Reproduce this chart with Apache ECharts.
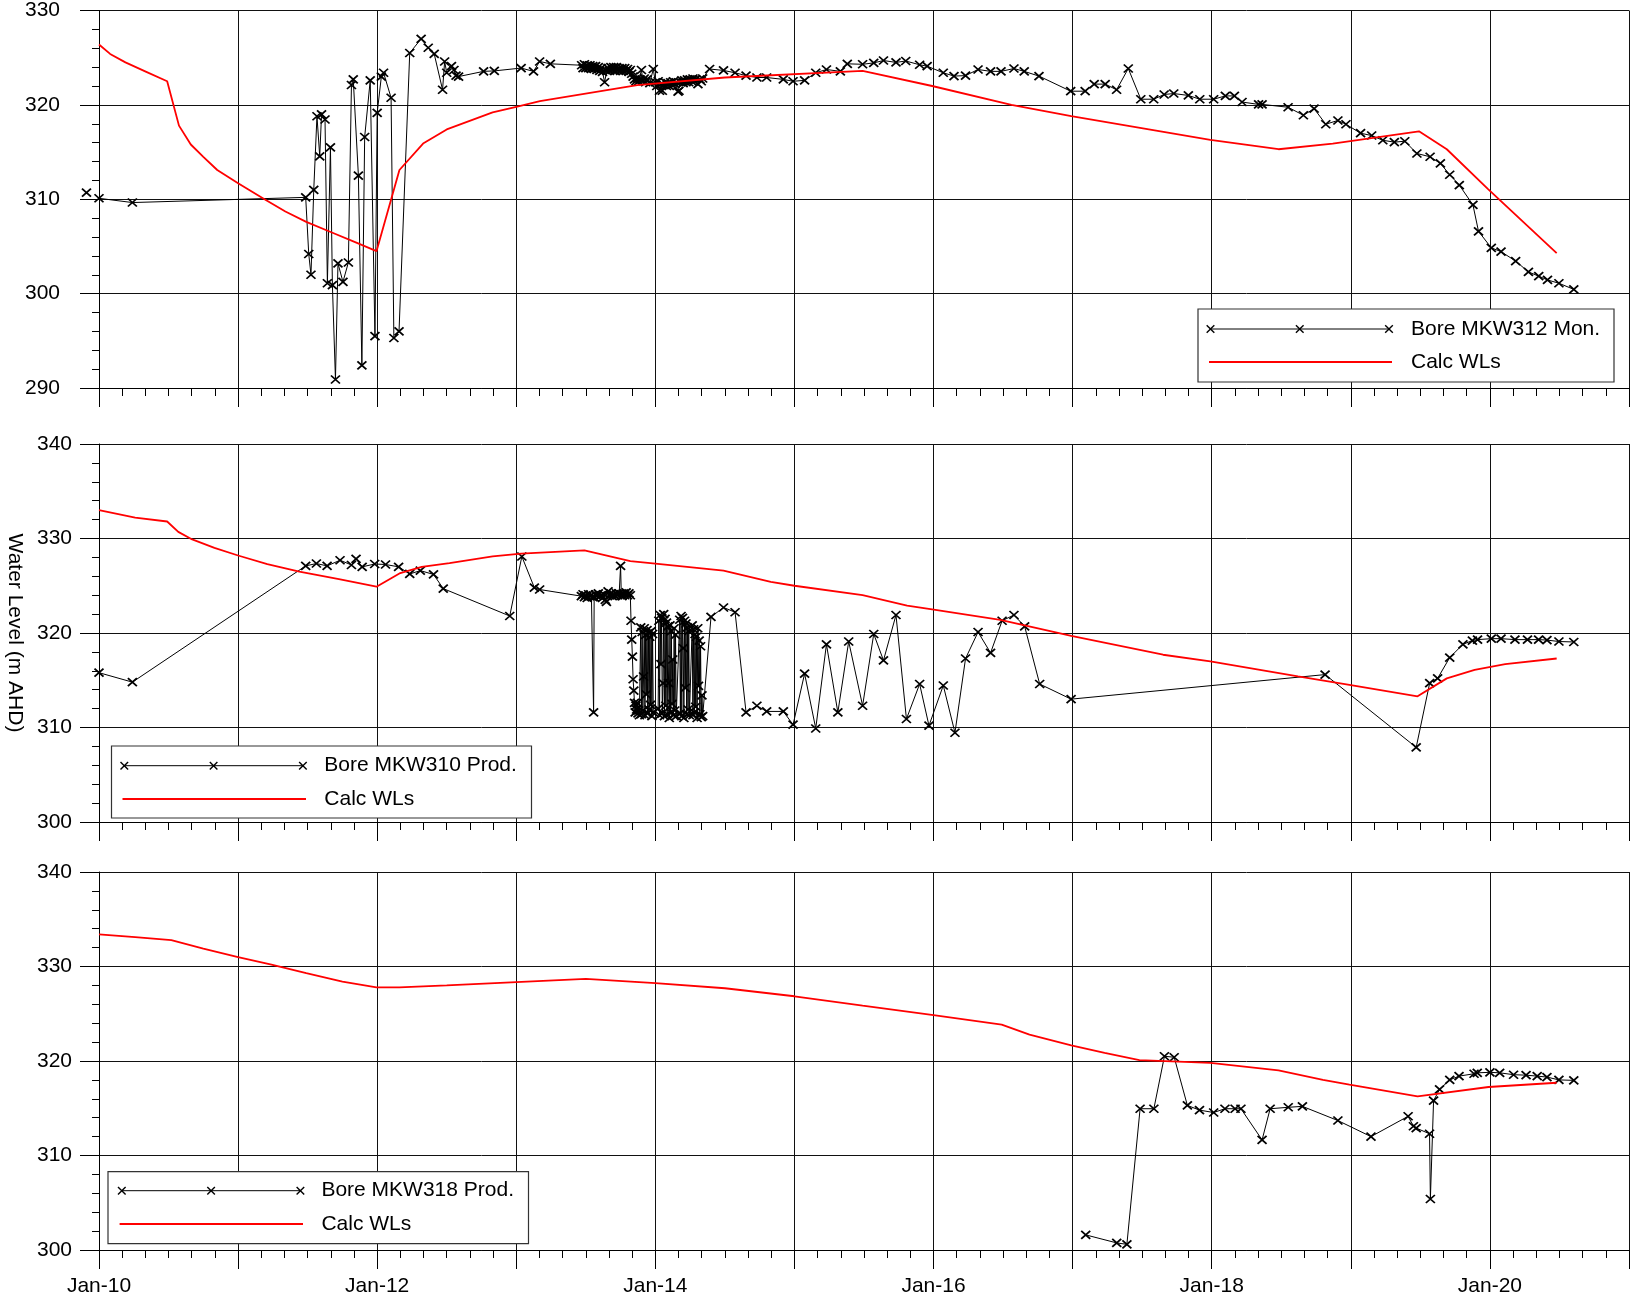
<!DOCTYPE html>
<html>
<head>
<meta charset="utf-8">
<script src="https://cdn.jsdelivr.net/npm/echarts@6/dist/echarts.min.js"></script>
<style>
  html, body { margin: 0; padding: 0; background: #fff; }
  #chart { width: 1633px; height: 1303px; }
</style>
</head>
<body>
<div id="chart"></div>
<script>
// Observed bore water levels and calculated water levels (m AHD), x in decimal years.

const bore312 = [
  [2009.91,310.7],[2010.0,310.1],[2010.24,309.65],[2011.486,310.2],[2011.508,304.2],[2011.524,302.0],
  [2011.544,311.0],[2011.567,318.8],[2011.587,314.55],[2011.600,319.0],[2011.625,318.45],[2011.642,301.1],
  [2011.664,315.5],[2011.678,300.9],[2011.700,290.9],[2011.718,303.2],[2011.754,301.25],[2011.793,303.3],
  [2011.815,322.1],[2011.828,322.7],[2011.865,312.5],[2011.890,292.4],[2011.910,316.6],[2011.950,322.6],
  [2011.984,295.5],[2012.000,319.15],[2012.030,323.0],[2012.046,323.4],[2012.100,320.75],[2012.120,295.3],
  [2012.157,296.0],[2012.234,325.5],[2012.316,327.0],[2012.367,326.05],[2012.410,325.4],[2012.470,321.6],
  [2012.485,324.6],[2012.500,323.4],[2012.534,324.1],[2012.552,323.7],[2012.567,323.1],[2012.585,323.0],
  [2012.765,323.55],[2012.842,323.6],[2013.035,323.9],[2013.124,323.55],[2013.168,324.6],[2013.245,324.35],
  [2013.47,324.2],[2013.48,323.9],[2013.49,324.3],[2013.50,323.9],[2013.51,324.2],[2013.52,323.9],
  [2013.53,324.2],[2013.54,323.8],[2013.55,324.1],[2013.56,323.8],[2013.57,324.1],[2013.58,323.7],
  [2013.59,324.0],[2013.60,323.6],[2013.61,323.9],[2013.62,323.5],[2013.635,322.4],[2013.65,323.6],
  [2013.66,323.9],[2013.67,323.6],[2013.68,324.0],[2013.69,323.7],[2013.70,324.0],[2013.71,323.6],
  [2013.72,324.0],[2013.73,323.7],[2013.74,323.9],[2013.75,323.6],[2013.76,323.9],[2013.77,323.6],
  [2013.78,323.9],[2013.79,323.6],[2013.80,323.8],[2013.81,323.5],[2013.82,323.7],[2013.83,323.3],
  [2013.84,323.0],[2013.85,322.7],[2013.86,322.5],[2013.87,322.8],[2013.88,322.5],[2013.89,322.7],
  [2013.90,323.7],[2013.91,322.6],[2013.92,322.8],[2013.93,322.4],[2013.94,322.7],[2013.96,322.3],
  [2013.985,323.8],[2014.00,322.4],[2014.01,322.0],[2014.02,322.5],[2014.03,321.5],[2014.04,322.2],
  [2014.05,321.5],[2014.06,322.1],[2014.07,322.4],[2014.08,322.0],[2014.09,322.3],[2014.10,322.0],
  [2014.11,322.4],[2014.12,322.1],[2014.13,322.5],[2014.14,322.2],[2014.15,322.4],[2014.163,321.4],
  [2014.17,321.5],[2014.18,322.4],[2014.19,322.6],[2014.20,322.3],[2014.21,322.6],[2014.22,322.4],
  [2014.23,322.7],[2014.24,322.4],[2014.25,322.7],[2014.26,322.5],[2014.27,322.8],[2014.28,322.5],
  [2014.29,322.7],[2014.306,322.2],[2014.32,322.7],[2014.33,322.5],[2014.34,322.8],[2014.39,323.8],
  [2014.49,323.65],[2014.573,323.4],[2014.652,323.1],[2014.73,322.9],[2014.80,322.9],[2014.92,322.7],
  [2014.99,322.5],[2015.073,322.6],[2015.153,323.4],[2015.23,323.75],[2015.33,323.55],[2015.38,324.35],
  [2015.49,324.3],[2015.57,324.45],[2015.64,324.7],[2015.73,324.5],[2015.80,324.65],[2015.90,324.25],
  [2015.954,324.1],[2016.07,323.4],[2016.147,323.05],[2016.23,323.1],[2016.32,323.75],[2016.41,323.55],
  [2016.485,323.55],[2016.578,323.85],[2016.652,323.55],[2016.758,323.05],[2016.986,321.45],[2017.09,321.45],
  [2017.155,322.2],[2017.234,322.2],[2017.316,321.6],[2017.40,323.85],[2017.49,320.6],[2017.583,320.6],
  [2017.658,321.1],[2017.727,321.2],[2017.832,321.0],[2017.914,320.6],[2018.014,320.6],[2018.098,320.95],
  [2018.163,320.95],[2018.218,320.3],[2018.337,320.05],[2018.362,320.05],[2018.549,319.75],[2018.659,318.9],
  [2018.736,319.6],[2018.82,317.95],[2018.907,318.35],[2018.965,317.95],[2019.07,317.0],[2019.15,316.75],
  [2019.23,316.25],[2019.313,316.05],[2019.388,316.15],[2019.475,314.85],[2019.57,314.5],[2019.644,313.8],
  [2019.711,312.6],[2019.78,311.5],[2019.878,309.4],[2019.918,306.6],[2020.01,304.85],[2020.08,304.45],
  [2020.185,303.45],[2020.277,302.3],[2020.351,301.85],[2020.414,301.45],[2020.496,301.1],[2020.603,300.45]
];

const calc312 = [
  [2010.0,326.4],[2010.08,325.4],[2010.19,324.5],[2010.34,323.5],[2010.49,322.5],[2010.575,317.8],
  [2010.66,315.8],[2010.75,314.5],[2010.85,313.1],[2011.0,311.7],[2011.19,310.0],[2011.34,308.7],
  [2011.49,307.6],[2011.67,306.5],[2011.85,305.4],[2011.995,304.5],[2012.16,313.1],[2012.33,315.9],
  [2012.5,317.4],[2012.83,319.2],[2013.0,319.8],[2013.17,320.4],[2013.87,322.1],[2014.5,322.9],
  [2015.49,323.6],[2015.99,322.0],[2016.56,320.0],[2016.99,318.8],[2017.99,316.3],[2018.48,315.3],
  [2018.87,315.9],[2019.49,317.2],[2019.69,315.3],[2019.985,311.1],[2020.48,304.3]
];

const bore310 = [
  [2010.0,315.8],[2010.24,314.8],[2011.486,327.1],[2011.563,327.35],[2011.64,327.1],[2011.733,327.7],
  [2011.815,327.2],[2011.848,327.85],[2011.892,327.0],[2011.982,327.3],[2012.06,327.25],[2012.154,327.0],
  [2012.234,326.25],[2012.31,326.6],[2012.405,326.2],[2012.475,324.7],[2012.953,321.8],[2013.04,328.1],
  [2013.13,324.8],[2013.168,324.6],
  [2013.468,323.9],[2013.48,324.1],[2013.49,323.8],[2013.50,324.0],[2013.51,323.7],[2013.52,324.1],
  [2013.53,323.9],[2013.54,324.0],[2013.55,323.8],[2013.556,311.6],[2013.56,323.8],[2013.57,324.1],
  [2013.58,323.9],[2013.59,324.2],[2013.60,323.9],[2013.61,324.0],[2013.62,323.7],[2013.63,324.1],
  [2013.64,323.5],[2013.648,323.3],[2013.66,324.4],[2013.67,324.0],[2013.68,324.2],[2013.69,323.9],
  [2013.70,324.1],[2013.71,323.9],[2013.72,324.2],[2013.73,324.0],[2013.74,324.2],[2013.75,327.1],
  [2013.755,324.1],[2013.76,323.9],[2013.77,324.2],[2013.78,324.0],[2013.79,324.3],[2013.80,324.0],
  [2013.81,324.2],[2013.82,324.0],
  [2013.825,321.3],[2013.83,319.3],[2013.835,317.5],[2013.84,315.1],[2013.845,313.9],[2013.85,312.6],
  [2013.855,311.6],[2013.86,312.3],[2013.865,311.9],[2013.87,312.6],[2013.875,311.5],[2013.88,311.8],
  [2013.885,311.3],
  [2013.895,320.6],[2013.90,311.4],[2013.905,320.1],[2013.91,311.8],[2013.915,315.4],[2013.92,320.5],
  [2013.925,311.3],[2013.93,319.8],[2013.935,313.5],[2013.94,320.3],[2013.945,311.5],[2013.95,320.0],
  [2013.955,311.9],[2013.96,319.6],[2013.965,312.4],[2013.97,320.2],[2013.975,311.2],[2013.98,319.9],
  [2013.985,311.6],
  [2014.02,312.0],[2014.025,321.3],[2014.03,311.3],[2014.035,321.9],[2014.04,316.7],[2014.045,321.6],
  [2014.05,311.5],[2014.055,314.7],[2014.06,322.0],[2014.065,311.2],[2014.07,321.5],[2014.075,312.3],
  [2014.08,321.1],[2014.085,311.4],[2014.09,320.7],[2014.095,314.7],[2014.10,311.0],[2014.105,320.8],
  [2014.11,311.6],[2014.115,320.2],[2014.12,312.5],[2014.125,317.2],[2014.13,311.3],[2014.135,320.5],
  [2014.14,311.8],[2014.145,319.8],[2014.15,311.2],
  [2014.175,321.4],[2014.18,311.5],[2014.185,321.8],[2014.19,311.2],[2014.195,321.6],[2014.20,318.4],
  [2014.205,311.0],[2014.21,321.3],[2014.215,314.2],[2014.22,321.0],[2014.225,311.4],[2014.23,320.6],
  [2014.235,311.9],[2014.24,320.2],[2014.245,311.3],
  [2014.265,320.8],[2014.27,311.3],[2014.275,320.4],[2014.28,311.6],[2014.285,319.9],[2014.29,312.2],
  [2014.295,319.6],[2014.30,311.0],[2014.305,320.5],[2014.31,314.4],[2014.315,319.2],[2014.32,311.4],
  [2014.325,318.6],[2014.33,311.1],[2014.335,313.4],[2014.34,311.2],
  [2014.40,321.7],[2014.49,322.7],[2014.573,322.2],[2014.652,311.6],[2014.73,312.3],[2014.80,311.7],
  [2014.92,311.7],[2014.99,310.3],[2015.073,315.7],[2015.153,309.9],[2015.23,318.8],[2015.312,311.6],
  [2015.39,319.1],[2015.49,312.3],[2015.57,319.9],[2015.64,317.1],[2015.73,321.9],[2015.805,310.9],
  [2015.90,314.6],[2015.967,310.2],[2016.07,314.45],[2016.154,309.45],[2016.23,317.3],[2016.32,320.1],
  [2016.41,317.9],[2016.493,321.3],[2016.578,321.9],[2016.655,320.7],[2016.763,314.6],[2016.989,313.0],
  [2018.815,315.6],[2019.47,307.9],[2019.567,314.7],[2019.624,315.2],[2019.711,317.4],[2019.806,318.8],
  [2019.874,319.2],[2019.911,319.3],[2020.01,319.4],[2020.08,319.4],[2020.18,319.3],[2020.27,319.3],
  [2020.35,319.3],[2020.41,319.25],[2020.496,319.1],[2020.603,319.05]
];

const calc310 = [
  [2010.0,333.0],[2010.26,332.2],[2010.49,331.8],[2010.57,330.7],[2010.67,329.9],[2010.83,329.0],
  [2011.0,328.2],[2011.21,327.3],[2011.44,326.5],[2011.725,325.7],[2011.995,324.9],[2012.16,326.3],
  [2012.32,327.0],[2012.52,327.4],[2012.83,328.1],[2013.035,328.4],[2013.49,328.75],[2013.82,327.6],
  [2014.0,327.35],[2014.49,326.6],[2014.83,325.4],[2015.0,325.0],[2015.49,324.0],[2015.81,322.9],
  [2015.99,322.5],[2016.48,321.4],[2016.99,319.7],[2017.65,317.7],[2017.99,317.0],[2018.62,315.4],
  [2018.99,314.5],[2019.48,313.3],[2019.69,315.2],[2019.89,316.1],[2020.11,316.7],[2020.48,317.3]
];

const bore318 = [
  [2017.094,301.6],[2017.317,300.75],[2017.39,300.6],[2017.485,314.95],[2017.584,314.95],[2017.66,320.5],
  [2017.73,320.4],[2017.825,315.3],[2017.912,314.8],[2018.014,314.55],[2018.095,314.95],[2018.168,314.95],
  [2018.21,314.95],[2018.362,311.65],[2018.42,314.95],[2018.55,315.1],[2018.652,315.2],[2018.907,313.7],
  [2019.145,312.0],[2019.412,314.15],[2019.45,313.1],[2019.47,312.9],[2019.566,312.3],[2019.572,305.4],
  [2019.595,315.8],[2019.638,317.0],[2019.711,318.0],[2019.778,318.4],[2019.886,318.65],[2019.909,318.75],
  [2020.0,318.8],[2020.07,318.75],[2020.17,318.55],[2020.26,318.5],[2020.34,318.4],[2020.41,318.3],
  [2020.496,318.0],[2020.603,317.95]
];

const calc318 = [
  [2010.0,333.4],[2010.26,333.1],[2010.52,332.8],[2010.75,331.9],[2011.0,331.0],[2011.24,330.2],
  [2011.49,329.3],[2011.75,328.4],[2011.995,327.8],[2012.16,327.8],[2012.5,328.0],[2013.0,328.35],
  [2013.5,328.7],[2014.0,328.25],[2014.5,327.7],[2015.0,326.85],[2015.49,325.85],[2016.0,324.85],
  [2016.49,323.85],[2016.69,322.8],[2016.99,321.65],[2017.23,320.85],[2017.48,320.1],[2017.99,319.8],
  [2018.48,319.0],[2018.8,318.0],[2018.99,317.5],[2019.48,316.25],[2019.99,317.25],[2020.48,317.7]
];

const xTickLabels = { 2010: 'Jan-10', 2012: 'Jan-12', 2014: 'Jan-14', 2016: 'Jan-16', 2018: 'Jan-18', 2020: 'Jan-20' };
const yRanges = [[290, 330], [300, 340], [300, 340]];
const boreNames = ['Bore MKW312 Mon.', 'Bore MKW310 Prod.', 'Bore MKW318 Prod.'];
const calcName = 'Calc WLs';
const axisTitle = 'Water Level (m AHD)';

const FONT = '"Liberation Sans", Arial, Helvetica, sans-serif';
const X_MARK = 'path://M0,0L10,10M10,0L0,10';

const gridTops = [10, 444, 872];
const labelMargins = [39, 27, 27];

const grids = gridTops.map(t => ({ left: 99, width: 1530, top: t, height: 378, containLabel: false }));

const xAxes = gridTops.map((t, i) => ({
  type: 'value', gridIndex: i, min: 2010, max: 2021, interval: 1,
  axisLine: { show: true, onZero: false, lineStyle: { color: '#000', width: 1 } },
  axisTick: { show: true, length: 19, lineStyle: { color: '#000', width: 1 } },
  minorTick: { show: true, splitNumber: 6, length: 8, lineStyle: { color: '#000', width: 1 } },
  splitLine: { show: true, lineStyle: { color: '#111', width: 1 } },
  axisLabel: {
    show: i === 2, margin: 26, fontSize: 21, color: '#000', fontFamily: FONT,
    formatter: v => xTickLabels[v] || ''
  }
}));

const yAxes = yRanges.map((r, i) => ({
  type: 'value', gridIndex: i, min: r[0], max: r[1], interval: 10,
  axisLine: { show: true, onZero: false, lineStyle: { color: '#000', width: 1 } },
  axisTick: { show: true, length: 19, lineStyle: { color: '#000', width: 1 } },
  minorTick: { show: true, splitNumber: 5, length: 7, lineStyle: { color: '#000', width: 1 } },
  splitLine: { show: true, lineStyle: { color: '#111', width: 1 } },
  axisLabel: { margin: labelMargins[i], fontSize: 21, color: '#000', fontFamily: FONT }
}));

function boreSeries(i, data) {
  return {
    type: 'line', name: boreNames[i], xAxisIndex: i, yAxisIndex: i, data: data,
    symbol: X_MARK, symbolSize: [9, 8], showSymbol: true, showAllSymbol: true, clip: false,
    lineStyle: { color: '#000', width: 1 },
    itemStyle: { color: '#000', borderColor: '#000', borderWidth: 1.7 },
    emphasis: { disabled: true }, z: 3, animation: false
  };
}
function calcSeries(i, data) {
  return {
    type: 'line', name: calcName, xAxisIndex: i, yAxisIndex: i, data: data,
    symbol: 'none', clip: false,
    lineStyle: { color: '#ff0000', width: 1.8 },
    emphasis: { disabled: true }, z: 4, animation: false
  };
}

// Legend boxes: a sample line with three cross markers and a red line.
function legendBox(box, row1, row2, lineX1, lineX2, redX1, redX2, textX, label) {
  const els = [];
  els.push({ type: 'rect', shape: { x: box[0], y: box[1], width: box[2], height: box[3] },
    style: { fill: '#fff', stroke: '#333', lineWidth: 1.2 }, z: 100 });
  els.push({ type: 'line', shape: { x1: lineX1, y1: row1, x2: lineX2, y2: row1 },
    style: { stroke: '#000', lineWidth: 1 }, z: 101 });
  [lineX1, (lineX1 + lineX2) / 2, lineX2].forEach(cx => {
    const s = 3.8;
    els.push({ type: 'line', shape: { x1: cx - s, y1: row1 - s, x2: cx + s, y2: row1 + s }, style: { stroke: '#000', lineWidth: 1.4 }, z: 102 });
    els.push({ type: 'line', shape: { x1: cx + s, y1: row1 - s, x2: cx - s, y2: row1 + s }, style: { stroke: '#000', lineWidth: 1.4 }, z: 102 });
  });
  els.push({ type: 'line', shape: { x1: redX1, y1: row2, x2: redX2, y2: row2 },
    style: { stroke: '#ff0000', lineWidth: 1.8 }, z: 101 });
  els.push({ type: 'text', x: textX, y: row1, style: { text: label, font: '21px ' + FONT, fill: '#000', align: 'left', verticalAlign: 'middle' }, z: 102 });
  els.push({ type: 'text', x: textX, y: row2, style: { text: calcName, font: '21px ' + FONT, fill: '#000', align: 'left', verticalAlign: 'middle' }, z: 102 });
  return els;
}

const graphics = []
  .concat(legendBox([1198, 309, 416, 73], 329, 362, 1210.5, 1389, 1209, 1392, 1411, boreNames[0]))
  .concat(legendBox([111.5, 746, 420, 72], 765.7, 799, 124.3, 302.9, 122.5, 306, 324.3, boreNames[1]))
  .concat(legendBox([108, 1171.7, 420.5, 72], 1190.7, 1224, 121.8, 300.4, 119.6, 303, 321.4, boreNames[2]));

graphics.push({
  type: 'text', x: 15, y: 633, rotation: -Math.PI / 2,
  style: { text: axisTitle, font: '21px ' + FONT, fill: '#000', align: 'center', verticalAlign: 'middle' }, z: 50
});

const chart = echarts.init(document.getElementById('chart'), null, { renderer: 'canvas' });
chart.setOption({
  animation: false,
  backgroundColor: '#fff',
  grid: grids,
  xAxis: xAxes,
  yAxis: yAxes,
  series: [
    boreSeries(0, bore312), calcSeries(0, calc312),
    boreSeries(1, bore310), calcSeries(1, calc310),
    boreSeries(2, bore318), calcSeries(2, calc318)
  ],
  graphic: graphics
});
</script>
</body>
</html>
